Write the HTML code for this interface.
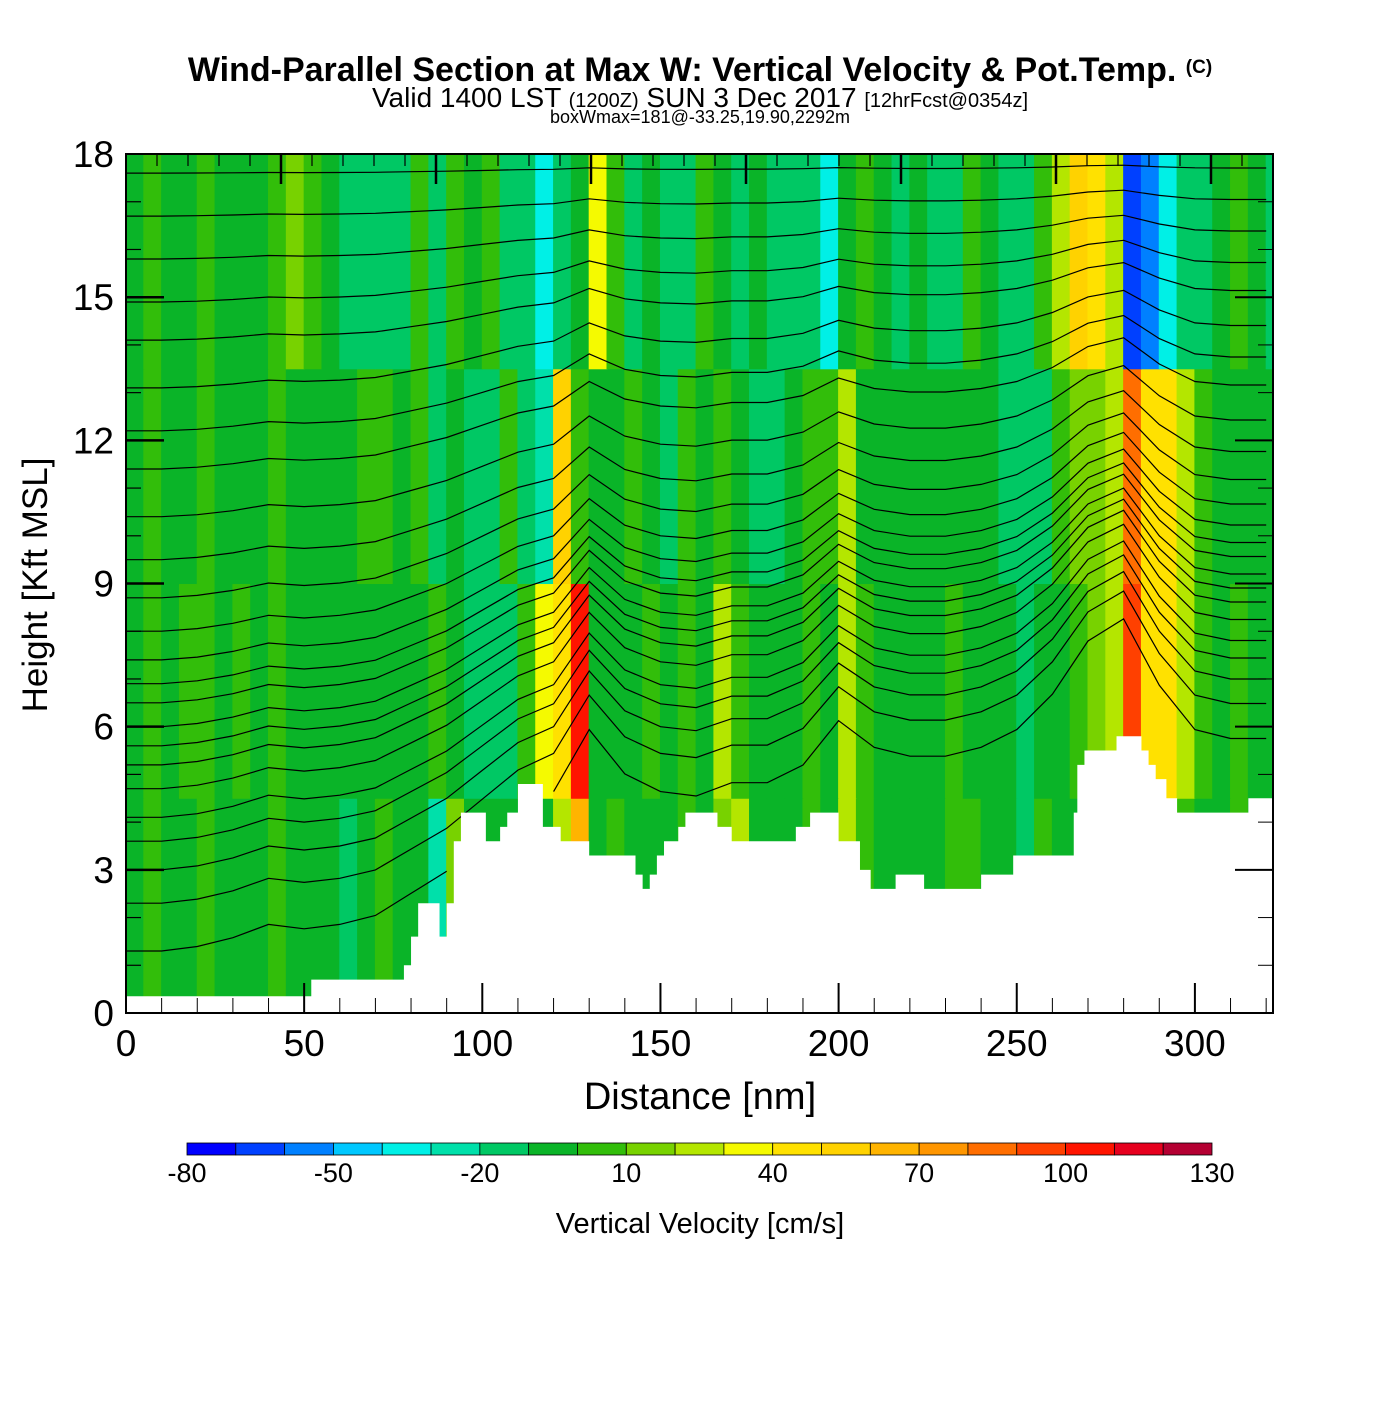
<!DOCTYPE html>
<html><head><meta charset="utf-8"><style>
body{margin:0;background:#fff;}
svg text{font-family:"Liberation Sans",sans-serif;}
</style></head><body>
<svg id="chart" width="1400" height="1400" viewBox="0 0 1400 1400" xmlns="http://www.w3.org/2000/svg">
<rect width="1400" height="1400" fill="#fff"/>
<text x="700" y="81" text-anchor="middle" font-size="34" font-weight="bold">Wind-Parallel Section at Max W: Vertical Velocity &amp; Pot.Temp. <tspan font-size="19" dy="-8">(C)</tspan></text>
<text x="700" y="107" text-anchor="middle" font-size="28">Valid 1400 LST <tspan font-size="20">(1200Z)</tspan> SUN 3 Dec 2017 <tspan font-size="20">[12hrFcst@0354z]</tspan></text>
<text x="700" y="123" text-anchor="middle" font-size="18">boxWmax=181@-33.25,19.90,2292m</text>
<defs><clipPath id="pc"><rect x="126" y="154" width="1147" height="859"/></clipPath></defs>
<g id="cells" clip-path="url(#pc)"></g>
<g id="contours" clip-path="url(#pc)"></g>
<g id="terrain" clip-path="url(#pc)"></g>
<g id="axes"></g>
<rect x="126" y="154" width="1147" height="859" fill="none" stroke="#000" stroke-width="2"/>
<text transform="translate(47,585) rotate(-90)" text-anchor="middle" font-size="35">Height [Kft MSL]</text>
<text x="700" y="1109" text-anchor="middle" font-size="38">Distance [nm]</text>
<g id="cbar"></g>
<text x="700" y="1233" text-anchor="middle" font-size="29">Vertical Velocity [cm/s]</text>
</svg>
<script>
const colors=["#0000ff","#0040ff","#0080ff","#00c8ff","#00f0e6","#00e0aa","#00c864","#0ab428","#32be0a","#78d200","#b4e600","#f5fa00","#ffe100","#ffd200","#ffb400","#ff9600","#ff6e00","#ff4000","#ff1400","#e6001e","#b40032"];
const cbarLabels=[-80,-50,-20,10,40,70,100,130];
const xTicks=[0,50,100,150,200,250,300];
const yTicks=[0,3,6,9,12,15,18];
// vertical velocity (cm/s), 5-nm columns, four height bands
const bandBottoms=[0,4.5,9,13.5];
const wLow=[-5,5,-5,-5,5,-5,-5,-5,5,-5, -5,-5,-15,-5,5,-5,-5,-25,15,-5, -5,-5,-5,-5,25,60,-5,5,-5,-5, -5,5,-5,15,25,-5,-5,-5,5,-5, 25,5,-5,-5,-5,-5,5,5,-5,-5, -15,5,-5,-5,5,5,-5,-5,15,5, -5,-5,5,-5,-5];
const wMidLow=[-5,5,-5,5,5,-5,5,-5,5,-5, -5,-5,-5,-5,-5,-5,-5,5,-5,-15, -15,-15,5,35,45,100,-5,-5,-5,5, -5,5,-5,25,5,-5,-5,-5,5,-5, 25,5,-5,-5,-5,-5,5,-5,-5,-5, -15,-5,-5,5,15,25,95,45,45,25, 5,-5,5,-5,-5];
const wMidHigh=[-5,5,-5,-5,5,-5,-5,-5,5,-5, -5,-5,-5,5,5,-5,5,-15,-5,-15, -15,5,-15,-25,55,5,-5,-5,5,-5, -15,5,-5,5,-5,-15,-15,-5,5,5, 25,-5,-5,-5,-5,-5,-5,-5,-5,-15, -15,-15,5,15,15,25,80,45,40,25, 5,-5,-5,-5,-5];
const wTop=[-5,5,-5,-5,5,-5,-5,-5,5,15, 5,-5,-15,-15,-15,-15,5,-15,5,-5, 5,-15,-15,-35,-15,-5,30,5,-15,-5, -15,-15,5,-5,-15,-5,-15,-15,-15,-35, -5,5,-5,-15,-5,-15,-15,5,-5,-15, -15,5,25,50,40,25,-70,-60,-35,-15, -15,-5,5,-5,-15];
// terrain steps: start nm and height kft
const terrX=[0,52,78,80,82,88,90,92,94,101,105,107,110,117,122,130,143,145,147,149,151,155,157,166,170,188,192,200,206,209,216,224,240,249,266,267,269,278,285,287,289,292,295,315];
const terrH=[0.35,0.7,1.0,1.6,2.3,1.6,2.3,3.6,4.2,3.6,3.9,4.2,4.8,3.9,3.6,3.3,2.9,2.6,2.9,3.3,3.6,3.9,4.2,3.9,3.6,3.9,4.2,3.6,3.0,2.6,2.9,2.6,2.9,3.3,4.2,5.2,5.5,5.8,5.5,5.2,4.9,4.5,4.2,4.5];
// potential temperature contours: heights at left edge (kft) and displacement profile every 10 nm
const thetaBase=[17.6,16.7,15.8,14.9,14.1,13.1,12.2,11.4,10.4,9.5,8.7,8.0,7.4,6.9,6.5,6.0,5.6,5.2,4.7,4.1,3.6,3.0,2.3,1.3];
const thetaDisp=[0,0,0.1,0.3,0.6,0.5,0.6,0.8,1.3,1.8,2.5,3.2,3.6,5.0,4.0,3.6,3.5,3.8,3.8,4.2,5.2,4.6,4.4,4.4,4.6,5.0,5.8,7.0,7.5,6.0,5.0,4.8,4.8];

const NS="http://www.w3.org/2000/svg";
const X0=126,PXNM=3.563,Y0=1013,PXK=47.72;
const sx=v=>X0+v*PXNM, sy=v=>Y0-v*PXK;
function mk(tag,attrs,parent){const e=document.createElementNS(NS,tag);for(const k in attrs)e.setAttribute(k,attrs[k]);parent.appendChild(e);return e;}
const colorOf=v=>colors[Math.max(0,Math.min(20,Math.floor((v+80)/10)))];

const cells=document.getElementById('cells');
const bands=[wLow,wMidLow,wMidHigh,wTop];
bands.forEach((arr,b)=>{
  arr.forEach((v,i)=>{
    const r=mk('rect',{x:sx(i*5)-0.5,y:sy(bandBottoms[b]+4.5)-0.5,width:5*PXNM+1,height:4.5*PXK+1,fill:colorOf(v)},cells);
    
    
  });
});

function terrAt(nm){let h=terrH[0];for(let i=0;i<terrX.length;i++){if(nm>=terrX[i])h=terrH[i];}return h;}

const cg=document.getElementById('contours');
thetaBase.forEach(h0=>{
  let seg=[];
  const flush=()=>{if(seg.length>1){const p=mk('polyline',{points:seg.join(' '),fill:'none',stroke:'#000','stroke-width':1.2},cg);}seg=[];};
  for(let k=0;k<thetaDisp.length;k++){
    const nm=k*10;
    const h=h0+thetaDisp[k]*(18-h0)/18;
    if(h<terrAt(nm)+0.1){flush();continue;}
    seg.push(sx(nm).toFixed(1)+','+sy(h).toFixed(1));
  }
  flush();
});

const tg=document.getElementById('terrain');
let d='M'+sx(0)+','+sy(0);
terrX.forEach((x,i)=>{const xe=i<terrX.length-1?terrX[i+1]:330;d+=' L'+sx(x)+','+sy(terrH[i])+' L'+sx(xe)+','+sy(terrH[i]);});
d+=' L'+sx(330)+','+sy(0)+' Z';
const tp=mk('path',{d:d,fill:'#fff',stroke:'none'},tg);



const ax=document.getElementById('axes');
for(let nm=10;nm<=320;nm+=10){
  const L=nm%50===0?30:15;
  mk('line',{x1:sx(nm),y1:Y0,x2:sx(nm),y2:Y0-L,stroke:'#000','stroke-width':nm%50===0?2:1},ax);
}
for(let i=1;i<=37;i++){
  const x=126+i*31;if(x>1273)break;
  const L=i%5===0?30:12;
  mk('line',{x1:x,y1:154,x2:x,y2:154+L,stroke:'#000','stroke-width':i%5===0?2.5:1.2},ax);
}
for(let k=1;k<18;k++){
  const L=k%3===0?38:15;
  mk('line',{x1:126,y1:sy(k),x2:126+L,y2:sy(k),stroke:'#000','stroke-width':k%3===0?2.5:1.2},ax);
  mk('line',{x1:1273,y1:sy(k),x2:1273-L,y2:sy(k),stroke:'#000','stroke-width':k%3===0?2:1},ax);
}
xTicks.forEach(v=>{
  const t=mk('text',{x:sx(v),y:1056,'text-anchor':'middle','font-size':37},ax);t.textContent=v;
  
  
});
yTicks.forEach(v=>{
  const t=mk('text',{x:114,y:sy(v)+13,'text-anchor':'end','font-size':37},ax);t.textContent=v;
  
  
});

const cb=document.getElementById('cbar');
const CBX=187,CBW=1025/21;
colors.forEach((c,i)=>{
  const r=mk('rect',{x:CBX+i*CBW,y:1143,width:CBW,height:12,fill:c,stroke:'#000','stroke-width':0.8},cb);
  
  
});
cbarLabels.forEach(v=>{
  const t=mk('text',{x:CBX+(v+80)/10*CBW,y:1182,'text-anchor':'middle','font-size':27},cb);t.textContent=v;
  
  
});
</script>
</body></html>
